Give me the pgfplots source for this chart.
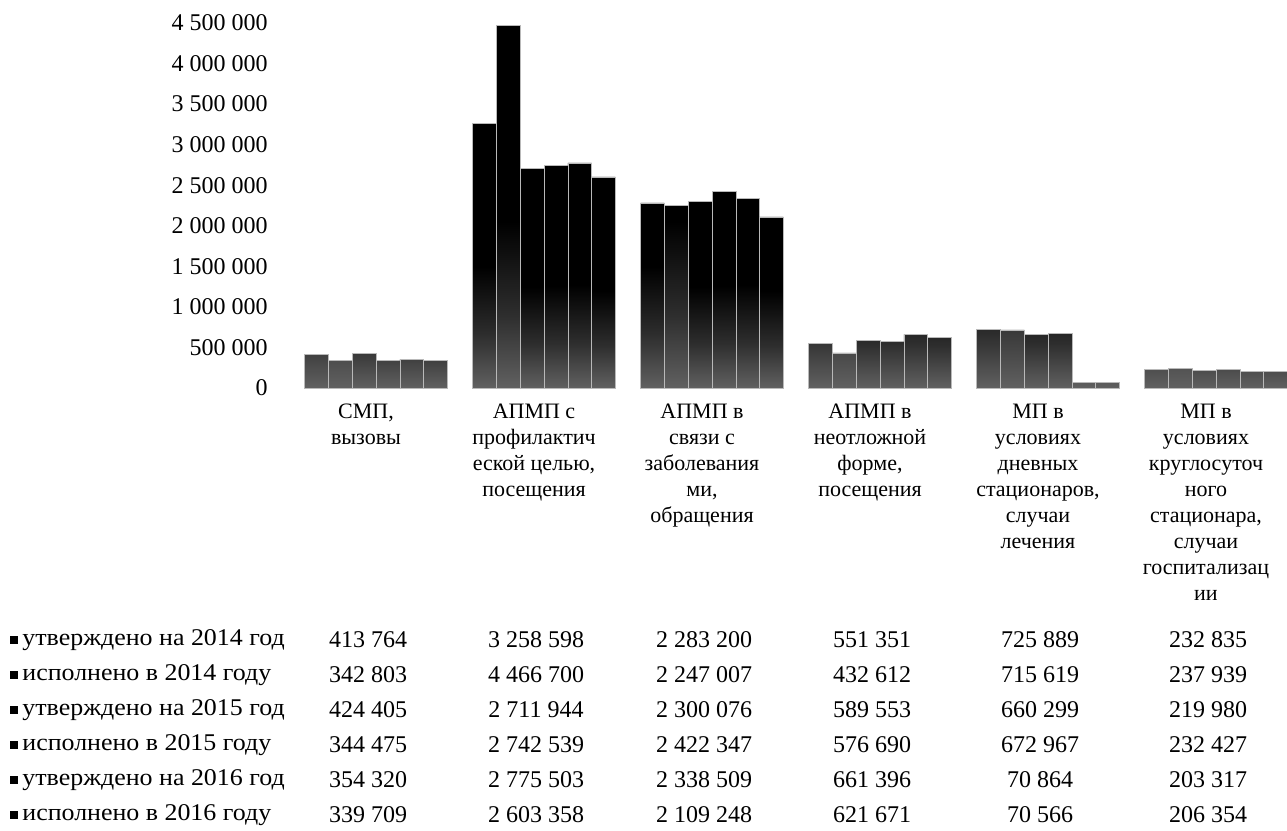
\documentclass[border=0pt]{standalone}
\usepackage{fontspec}
\setmainfont{Liberation Serif}
\usepackage{graphicx}
\usepackage{pgfplots}
\usepackage{pgfplotstable}
\pgfplotsset{compat=1.18}
\pgfdeclareverticalshading{barshade}{100bp}{color(0bp)=(black!22); color(18bp)=(black!48); color(35bp)=(black!82); color(48bp)=(black); color(100bp)=(black)}

\pgfplotstableread{
x s1 s2 s3 s4 s5 s6
0 413764 342803 424405 344475 354320 339709
1 3258598 4466700 2711944 2742539 2775503 2603358
2 2283200 2247007 2300076 2422347 2338509 2109248
3 551351 432612 589553 576690 661396 621671
4 725889 715619 660299 672967 70864 70566
5 232835 237939 219980 232427 203317 206354
}\data

\begin{document}
\begin{tikzpicture}[x=1pt,y=1pt]
\path[use as bounding box] (0,0) rectangle (643.5,-415.5);
\begin{axis}[
  at={(141pt,-194pt)}, anchor=south west,
  scale only axis, width=504pt, height=182.5pt,
  xmin=-0.5, xmax=5.5, ymin=0, ymax=4500000,
  axis line style={draw=none}, major tick length=0pt,
  scaled y ticks=false, clip=false,
  ybar=0pt, bar width=11.9pt,
  xtick={0,1,2,3,4,5},
  xticklabels={{СМП,\\вызовы},{АПМП с\\профилактич\\еской целью,\\посещения},{АПМП в\\связи с\\заболевания\\ми,\\обращения},{АПМП в\\неотложной\\форме,\\посещения},{МП в\\условиях\\дневных\\стационаров,\\случаи\\лечения},{МП в\\условиях\\круглосуточ\\ного\\стационара,\\случаи\\госпитализац\\ии}},
  xticklabel style={font=\fontsize{11}{13}\selectfont, align=center, anchor=north, inner sep=0pt, yshift=-8pt},
  ytick={0,500000,1000000,1500000,2000000,2500000,3000000,3500000,4000000,4500000},
  yticklabels={0,500 000,1 000 000,1 500 000,2 000 000,2 500 000,3 000 000,3 500 000,4 000 000,4 500 000},
  yticklabel style={font=\fontsize{12}{14}\selectfont, anchor=east, inner sep=0pt, xshift=-7pt},
]
\foreach \s in {s1,s2,s3,s4,s5,s6}{
  \addplot[shading=barshade, draw=gray!55, line width=0.3pt] table[x expr=\thisrow{x}+0.06, y=\s] {\data};
}
\end{axis}
% data table
\begin{scope}[every node/.style={font=\fontsize{12}{14}\selectfont, inner sep=0pt}]
\foreach \lab [count=\r] in {утверждено на 2014 год, исполнено в 2014 году, утверждено на 2015 год, исполнено в 2015 году, утверждено на 2016 год, исполнено в 2016 году}{
  \fill[black] ({7-1.8},{-320-17.5*(\r-1)-1.8}) rectangle ++(3.6,3.6);
  \node[anchor=west] at (11,{-320-17.5*(\r-1)}) {\scalebox{1.08}[1]{\lab}};
}
\foreach \a/\b/\c/\d/\e/\f [count=\r] in {
 413 764/3 258 598/2 283 200/551 351/725 889/232 835,
 342 803/4 466 700/2 247 007/432 612/715 619/237 939,
 424 405/2 711 944/2 300 076/589 553/660 299/219 980,
 344 475/2 742 539/2 422 347/576 690/672 967/232 427,
 354 320/2 775 503/2 338 509/661 396/70 864/203 317,
 339 709/2 603 358/2 109 248/621 671/70 566/206 354}{
  \node at (184,{-320-17.5*(\r-1)}) {\a};
  \node at (268,{-320-17.5*(\r-1)}) {\b};
  \node at (352,{-320-17.5*(\r-1)}) {\c};
  \node at (436,{-320-17.5*(\r-1)}) {\d};
  \node at (520,{-320-17.5*(\r-1)}) {\e};
  \node at (604,{-320-17.5*(\r-1)}) {\f};
}
\end{scope}
\end{tikzpicture}
\end{document}
